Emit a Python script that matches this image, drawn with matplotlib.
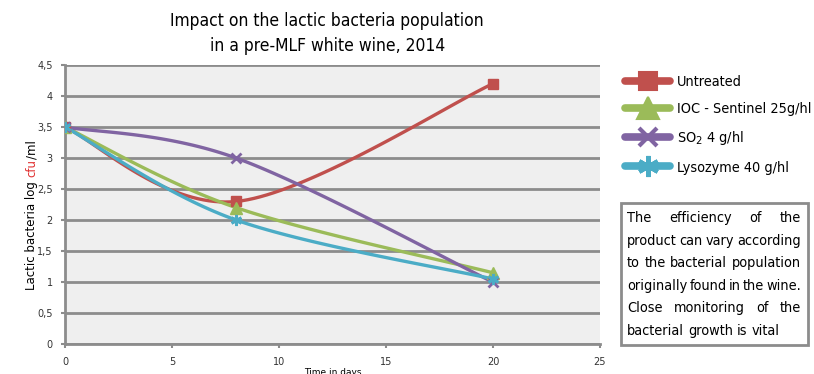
import matplotlib
matplotlib.use("Agg")
import matplotlib.pyplot as plt
import numpy as np
from matplotlib.lines import Line2D

days = [0, 8, 20]
untreated = [3.5, 2.3, 4.2]
ioc = [3.5, 2.2, 1.15]
so2 = [3.5, 3.0, 1.0]
lysozyme = [3.5, 2.0, 1.05]
series_labels = ["Untreated", "IOC - Sentinel 25g/hl", "SO$_2$ 4 g/hl", "Lysozyme 40 g/hl"]
y_ticks = [0, 0.5, 1, 1.5, 2, 2.5, 3, 3.5, 4, 4.5]
x_ticks = [0, 5, 10, 15, 20, 25]

NARROW = dict(family="DejaVu Sans", stretch="condensed")


def smooth(x, y, n=40):
    """Catmull-Rom style Bezier smoothing through the points."""
    x = np.asarray(x, float); y = np.asarray(y, float)
    px = np.concatenate([[x[0]], x, [x[-1]]])
    py = np.concatenate([[y[0]], y, [y[-1]]])
    xs, ys = [], []
    t = np.linspace(0, 1, n)
    for i in range(1, len(px) - 2):
        p0 = np.array([px[i], py[i]]); p3 = np.array([px[i + 1], py[i + 1]])
        c1 = p0 + (np.array([px[i + 1], py[i + 1]]) - np.array([px[i - 1], py[i - 1]])) / 6
        c2 = p3 - (np.array([px[i + 2], py[i + 2]]) - np.array([px[i], py[i]])) / 6
        b = ((1 - t) ** 3)[:, None] * p0 + (3 * (1 - t) ** 2 * t)[:, None] * c1 \
            + (3 * (1 - t) * t ** 2)[:, None] * c2 + (t ** 3)[:, None] * p3
        xs.extend(b[:, 0]); ys.extend(b[:, 1])
    return np.array(xs), np.array(ys)


fig = plt.figure(figsize=(8.14, 3.74), dpi=100)
ax = fig.add_axes([0.080, 0.080, 0.657, 0.746])
ax.set_facecolor("#EFEFEF")
ax.set_xlim(0, 25)
ax.set_ylim(0, 4.5)
ax.set_xticks(x_ticks)
ax.set_yticks(y_ticks)
ax.set_xticklabels([str(v) for v in x_ticks], fontsize=7, color="#333333")
ax.set_yticklabels([("%g" % v).replace(".", ",") for v in y_ticks], fontsize=7, color="#333333")
ax.grid(axis="y", color="#8C8C8C", linewidth=2)
ax.set_axisbelow(True)
for s in ["top", "right"]:
    ax.spines[s].set_visible(False)
for s in ["left", "bottom"]:
    ax.spines[s].set_color("#8C8C8C")
    ax.spines[s].set_linewidth(2)
ax.tick_params(color="#8C8C8C", width=1.5, length=3, pad=6)

styles = [
    (untreated, "#C0504D", "s", 7, 1),
    (ioc, "#9BBB59", "^", 8, 1),
    (so2, "#8064A2", "x", 7, 2),
    (lysozyme, "#4BACC6", (6, 2, 0), 8, 2),
]
handles = []
for (vals, col, mk, ms, mew), lab in zip(styles, series_labels):
    sx, sy = smooth(days, vals)
    ax.plot(sx, sy, color=col, lw=2.4, solid_capstyle="round", zorder=3)
    ax.plot(days, vals, ls="none", marker=mk, ms=ms, color=col, mec=col, mew=mew, zorder=4)
    handles.append(Line2D([], [], color=col, lw=5.5, marker=mk, ms=ms * 1.9, mec=col,
                          mew=mew * 1.5, solid_capstyle="round"))

fig.legend(handles, series_labels, loc="upper left", bbox_to_anchor=(0.763, 0.812),
           frameon=False, handlelength=3.1, labelspacing=0.92, handletextpad=0.45,
           borderaxespad=0, borderpad=0.3, prop=dict(size=10.4, **NARROW))

ax.set_xlabel("Time in days", fontsize=6.5, labelpad=1)

fig.text(0.402, 0.945, "Impact on the lactic bacteria population", ha="center", va="center",
         fontsize=12.5, **NARROW)
fig.text(0.402, 0.878, "in a pre-MLF white wine, 2014", ha="center", va="center",
         fontsize=12.5, **NARROW)

# y-axis label with coloured unit
fig.canvas.draw()
r = fig.canvas.get_renderer()
parts = [("Lactic bacteria log ", "black"), ("cfu", "#E03030"), ("/ml", "black")]
ylab_fs = 8.5
widths = []
for txt, _ in parts:
    t = fig.text(0, 0, txt, fontsize=ylab_fs)
    widths.append(t.get_window_extent(r).width)
    t.remove()
total = sum(widths)
y0 = (374 - 215) - total / 2
for (txt, col), w in zip(parts, widths):
    fig.text(32 / 814, y0 / 374, txt, fontsize=ylab_fs, rotation=90, color=col,
             ha="left", va="center", rotation_mode="anchor")
    y0 += w

# note box with justified text
box = plt.Rectangle((621 / 814, (374 - 345) / 374), 187 / 814, 142 / 374,
                    transform=fig.transFigure, fill=False, edgecolor="#8C8C8C", lw=2)
fig.add_artist(box)
note_lines = [
    "The efficiency of the",
    "product can vary according",
    "to the bacterial population",
    "originally found in the wine.",
    "Close monitoring of the",
    "bacterial growth is vital",
]
left, right = 627, 801


def measure(s, size):
    t = fig.text(0, 0, s, fontsize=size, **NARROW)
    w = t.get_window_extent(r).width
    t.remove()
    return w


fs = 11
space_w = measure("a a", fs) - measure("aa", fs)
scale = 1.0
for line in note_lines:
    words = line.split()
    natural = sum(measure(w, fs) for w in words) + 0.6 * space_w * (len(words) - 1)
    scale = min(scale, (right - left) / natural)
fs = fs * scale
space_w = measure("a a", fs) - measure("aa", fs)
for i, line in enumerate(note_lines):
    ypx = 218 + i * 22.6
    words = line.split()
    ws = [measure(w, fs) for w in words]
    if i < len(note_lines) - 1:
        gap = (right - left - sum(ws)) / (len(words) - 1)
    else:
        gap = space_w
    x = left
    for w, wd in zip(words, ws):
        fig.text(x / 814, (374 - ypx) / 374, w, fontsize=fs, va="center", **NARROW)
        x += wd + gap

fig.savefig("out.png", dpi=100)
